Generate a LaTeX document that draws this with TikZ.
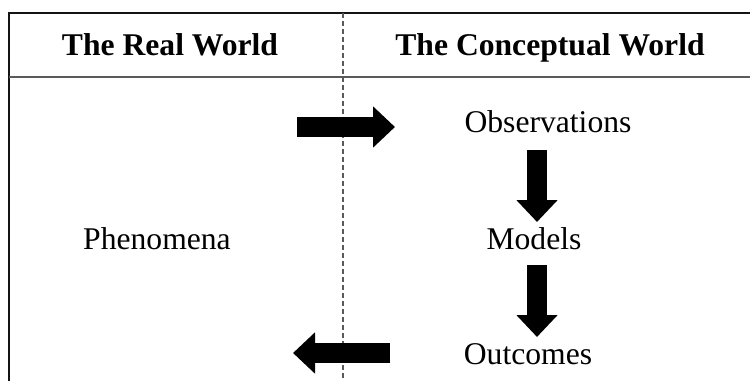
\documentclass[tikz,border=0pt]{standalone}
\usepackage{fontspec}
\setmainfont{Liberation Serif}
\usetikzlibrary{arrows.meta, positioning}
\definecolor{ruleblack}{RGB}{20, 20, 20}
\definecolor{rulegray}{RGB}{90, 90, 90}

\tikzset{
    label text/.style={anchor=base, font=\fontsize{18}{22}\selectfont, inner sep=0pt},
    head text/.style={label text, font=\fontsize{18}{22}\selectfont\bfseries},
    block arrow/.style={line width=0.4cm, -{Triangle[length=0.44cm, width=0.8cm]}, black},
}

\begin{document}
\begin{tikzpicture}[x=0.02cm, y=-0.02cm]
    \useasboundingbox (0,0) rectangle (750,381);

    % Frame
    \draw[ruleblack, line width=1.2pt] (9,381) -- (9,13) -- (750,13);
    \draw[rulegray, line width=1.2pt] (9,77) -- (750,77);
    \draw[rulegray, line width=0.7pt, dash pattern=on 0.1cm off 0.06cm] (343,13) -- (343,381);

    % Headers
    \node[head text] (real) at (170, 56) {The Real World};
    \node[head text] (concept) at (550, 56) {The Conceptual World};

    % Real World
    \node[label text] (phen) at (157, 250) {Phenomena};

    % Conceptual World
    \node[label text] (obs) at (548, 133) {Observations};
    \node[label text] (models) at (534, 250) {Models};
    \node[label text] (outc) at (528, 364) {Outcomes};

    % Arrow ends
    \coordinate (inA) at (297, 127);
    \coordinate (inB) at (395, 127);
    \coordinate (downA) at (537, 150);
    \coordinate (downB) at (537, 222);
    \coordinate (downC) at (537, 265);
    \coordinate (downD) at (537, 337);
    \coordinate (outA) at (390, 353);
    \coordinate (outB) at (293, 353);

    \draw[block arrow] (inA) -- (inB);
    \draw[block arrow] (downA) -- (downB);
    \draw[block arrow] (downC) -- (downD);
    \draw[block arrow] (outA) -- (outB);
\end{tikzpicture}
\end{document}
